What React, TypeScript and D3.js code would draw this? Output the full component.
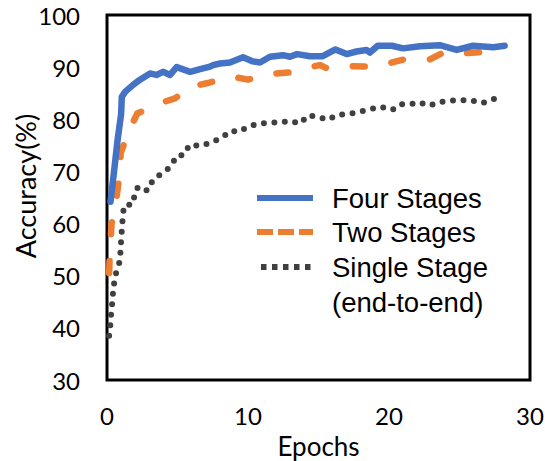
import React from "react";
import * as d3 from "d3";

// Validation accuracy per epoch for each training scheme
const fourEpochs = [0.25, 0.5, 0.75, 1.0, 1.05, 1.3, 1.85, 2.34, 3.05, 3.5, 3.97, 4.47, 4.94, 5.9, 6.6, 7.3, 7.52, 8.01, 8.72, 9.65, 10.35, 10.85, 11.56, 12.48, 12.98, 13.48, 14.4, 15.3, 16.2, 17.0, 17.7, 18.4, 18.65, 19.2, 20.2, 21.0, 22.2, 23.6, 24.8, 25.96, 27.4, 28.2];
const fourAcc = [64.2, 70, 76, 81, 84.3, 85.3, 86.6, 87.6, 88.8, 88.5, 89.1, 88.5, 90.0, 89.1, 89.6, 90.1, 90.4, 90.7, 90.9, 91.9, 91.1, 90.9, 92.0, 92.3, 92.0, 92.5, 92.1, 92.1, 93.4, 92.5, 93.0, 93.3, 92.8, 94.1, 94.1, 93.6, 94.0, 94.2, 93.3, 94.1, 93.8, 94.1];

const twoEpochs = [0.15, 0.21, 0.33, 0.64, 0.92, 0.97, 1.58, 2.15, 3.76, 4.82, 6.0, 7.07, 8.84, 10.0, 11.68, 12.98, 14.4, 15.1, 15.58, 17.1, 18.65, 19.9, 21.1, 22.9, 24.0, 25.6, 27.0, 28.2];
const twoAcc = [50.5, 54.9, 60.1, 64.2, 70, 73.5, 78, 81.1, 83.1, 84, 86.3, 86.9, 88.2, 87.6, 88.7, 89.0, 90.0, 90.4, 89.8, 90.2, 90.1, 90.7, 91.5, 91.5, 93.0, 92.7, 93.0, 93.0];

const singleEpochs = [0.15, 0.21, 0.28, 0.38, 0.45, 0.62, 0.92, 0.97, 1.04, 1.11, 1.2, 1.86, 1.99, 2.29, 2.86, 3.29, 3.88, 4.52, 4.94, 5.48, 5.84, 6.7, 7.54, 8.25, 8.77, 9.38, 9.95, 10.62, 11.56, 12.39, 12.98, 13.69, 14.28, 14.99, 15.7, 16.3, 17.04, 17.66, 18.49, 19.37, 20.24, 20.83, 21.56, 22.1, 22.84, 23.57, 24.4, 25.04, 25.9, 26.62, 27.35, 28.1];
const singleAcc = [38.5, 39.6, 42.3, 45, 47.7, 50.3, 52.9, 55.4, 58.3, 60.9, 63.4, 63.8, 66.4, 67.1, 66.3, 68.5, 69.6, 70.9, 73, 73.2, 75.1, 74.9, 75.7, 76.7, 77.8, 77.6, 78.5, 79.1, 79.4, 79.4, 79.7, 79.2, 80.8, 80.4, 79.9, 80.8, 81.0, 81.3, 81.8, 82.4, 81.8, 82.9, 82.9, 83.3, 82.6, 83.3, 83.6, 83.7, 83.6, 83.1, 83.8, 84.5];

const xTicks = [0, 10, 20, 30];
const yTicks = [30, 40, 50, 60, 70, 80, 90, 100];
const seriesNames = ["Four Stages", "Two Stages", "Single Stage"];

const W = 545;
const H = 461;
const plot = { left: 107, right: 530, top: 15, bottom: 380 };

const BLUE = "#4472C4";
const ORANGE = "#ED7D31";
const GRAY = "#404040";

const tickFont = "Lato, 'Noto Sans', sans-serif";
const legendFont = "'Liberation Sans', Arial, sans-serif";

export default function App() {
  const x = d3.scaleLinear().domain([0, 30]).range([plot.left, plot.right]);
  const y = d3.scaleLinear().domain([30, 100]).range([plot.bottom, plot.top]);

  const line = d3
    .line<[number, number]>()
    .x((d) => x(d[0]))
    .y((d) => y(d[1]));

  const zip = (a: number[], b: number[]) => a.map((v, i) => [v, b[i]] as [number, number]);

  const four = line(zip(fourEpochs, fourAcc)) || "";
  const two = line(zip(twoEpochs, twoAcc)) || "";
  const single = line(zip(singleEpochs, singleAcc)) || "";

  const legendX0 = 257;
  const legendX1 = 313;
  const legendText = 332;
  const legendRows = [198, 232, 267, 302];

  return (
    <svg
      width={W}
      height={H}
      style={{ position: "absolute", left: 0, top: 0, background: "#fff" }}
    >
      <rect x={0} y={0} width={W} height={H} fill="#fff" />

      {/* plot frame */}
      <rect
        x={plot.left}
        y={plot.top}
        width={plot.right - plot.left}
        height={plot.bottom - plot.top}
        fill="none"
        stroke="#000"
        strokeWidth={3}
      />

      {/* y tick labels */}
      {yTicks.map((t) => (
        <text
          key={"y" + t}
          x={80}
          y={y(t)}
          textAnchor="end"
          dominantBaseline="central"
          fontFamily={tickFont}
          fontSize={24}
          fill="#000"
        >
          {t}
        </text>
      ))}

      {/* x tick labels */}
      {xTicks.map((t) => (
        <text
          key={"x" + t}
          x={x(t)}
          y={415}
          textAnchor="middle"
          dominantBaseline="central"
          fontFamily={tickFont}
          fontSize={24}
          fill="#000"
        >
          {t}
        </text>
      ))}

      {/* axis titles */}
      <text
        x={(plot.left + plot.right) / 2}
        y={446}
        textAnchor="middle"
        dominantBaseline="central"
        fontFamily={tickFont}
        fontSize={26}
        fill="#000"
      >
        Epochs
      </text>
      <text
        transform={`translate(25, 186) rotate(-90)`}
        textAnchor="middle"
        dominantBaseline="central"
        fontFamily={tickFont}
        fontSize={27}
        fill="#000"
      >
        Accuracy(%)
      </text>

      {/* series */}
      <path
        d={single}
        fill="none"
        stroke={GRAY}
        strokeWidth={6}
        strokeLinecap="round"
        strokeDasharray="0 10.5"
      />
      <path
        d={two}
        fill="none"
        stroke={ORANGE}
        strokeWidth={6.5}
        strokeLinecap="round"
        strokeLinejoin="round"
        strokeDasharray="12 27"
      />
      <path
        d={four}
        fill="none"
        stroke={BLUE}
        strokeWidth={6.5}
        strokeLinecap="round"
        strokeLinejoin="round"
      />

      {/* legend */}
      <line x1={legendX0} x2={legendX1} y1={legendRows[0]} y2={legendRows[0]} stroke={BLUE} strokeWidth={6} />
      <line
        x1={legendX0}
        x2={legendX1}
        y1={legendRows[1]}
        y2={legendRows[1]}
        stroke={ORANGE}
        strokeWidth={6}
        strokeDasharray="16 5"
      />
      <line
        x1={legendX0 + 4}
        x2={legendX1}
        y1={legendRows[2]}
        y2={legendRows[2]}
        stroke={GRAY}
        strokeWidth={6}
        strokeDasharray="5.5 5.5"
      />
      {seriesNames.map((n, i) => (
        <text
          key={n}
          x={legendText}
          y={legendRows[i]}
          dominantBaseline="central"
          fontFamily={legendFont}
          fontSize={27.5}
          fill="#000"
        >
          {n}
        </text>
      ))}
      <text
        x={legendText}
        y={legendRows[3]}
        dominantBaseline="central"
        fontFamily={legendFont}
        fontSize={27.5}
        fill="#000"
      >
        (end-to-end)
      </text>
    </svg>
  );
}
